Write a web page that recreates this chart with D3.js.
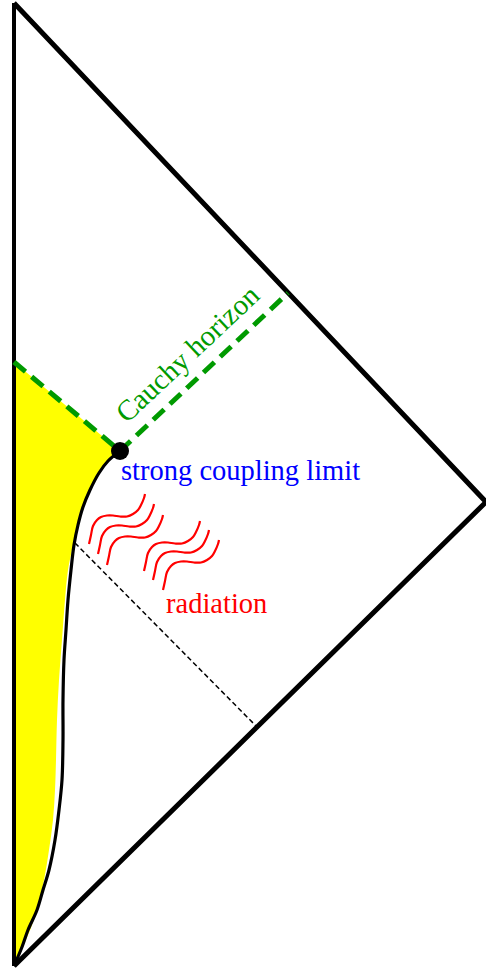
<!DOCTYPE html>
<html>
<head>
<meta charset="utf-8">
<script src="https://cdn.jsdelivr.net/npm/d3@7"></script>
<style>
  html, body { margin: 0; padding: 0; background: #fff; }
  svg { display: block; }
</style>
</head>
<body>
<div id="penrose"></div>
<script>
// diagram units: x from the left edge (r = 0), y up from the bottom corner
const boundary = [[0, 963], [472, 464], [0, 0]];
const leftEdge = [[0, 0], [0, 963]];
const cauchy = [[0, 604], [106, 515], [274, 673]];
const strongPoint = [106, 515];

// worldline of the shell / boundary of the strong coupling region
const curvePts = [
    [106, 515], [94, 505], [85, 493], [76, 476], [69, 459], [64, 441], [60, 421],
    [57, 396], [54, 366], [52, 336], [50, 306], [49, 266], [49, 226], [48, 186],
    [45, 156], [41, 126], [35, 96], [29, 76], [23, 56], [14, 36], [8, 19], [0, 0]
];
const yellowEdge = [
    [106, 515], [94, 505], [85, 493], [76, 476], [69, 459], [63, 441], [59, 421],
    [54, 396], [51, 366], [48, 326], [45, 286], [43, 246], [42, 206], [41, 176],
    [39, 146], [35, 116], [30, 86], [24, 61], [18, 41], [11, 24], [4, 8], [0, 0]
];
const rayLine = [[61, 423], [243, 239]];

const waveStarts = [[75, 422], [84, 412], [93, 401], [130, 395], [139, 386], [149, 376]];
const waveShape = [
    [0, 0], [2, 9], [4, 18], [8, 24], [12, 27], [18, 28.5], [24, 28.5],
    [31, 27.5], [38, 27.5], [44, 30], [49, 34], [52, 39], [55, 46], [56, 50]
];

const labels = [
    { text: "strong coupling limit", at: [107, 486], color: "#0000ff" },
    { text: "radiation", at: [152, 353], color: "#ff0000" }
];
const cauchyLabel = { text: "Cauchy horizon", at: [113, 542], color: "#009a00" };

const width = 486, height = 972;

const x = d3.scaleLinear().domain([0, 472]).range([14, 486]);
const y = d3.scaleLinear().domain([0, 963]).range([966, 3]);

const svg = d3.select("#penrose")
    .append("svg")
    .attr("width", width)
    .attr("height", height);

const line = d3.line().x(d => x(d[0])).y(d => y(d[1]));
const smooth = d3.line().x(d => x(d[0])).y(d => y(d[1])).curve(d3.curveCatmullRom);

// yellow region between r = 0 and the shell, below the Cauchy horizon
svg.append("path")
    .attr("d", line([[0, 0], [0, 604], [106, 515]]) + smooth(yellowEdge).replace("M", "L") + "Z")
    .attr("fill", "#ffff00")
    .attr("stroke", "none");

// r = 0
svg.append("path")
    .attr("d", line(leftEdge))
    .attr("fill", "none")
    .attr("stroke", "black")
    .attr("stroke-width", 4);

// shell
svg.append("path")
    .attr("d", smooth(curvePts))
    .attr("fill", "none")
    .attr("stroke", "black")
    .attr("stroke-width", 3.2);

// null infinity
svg.append("path")
    .attr("d", line(boundary))
    .attr("fill", "none")
    .attr("stroke", "black")
    .attr("stroke-width", 5)
    .attr("stroke-linejoin", "miter");

// Cauchy horizon
svg.append("path")
    .attr("d", line(cauchy))
    .attr("fill", "none")
    .attr("stroke", "#009a00")
    .attr("stroke-width", 5)
    .attr("stroke-dasharray", "15,8");

// ray to infinity
svg.append("path")
    .attr("d", line(rayLine))
    .attr("fill", "none")
    .attr("stroke", "black")
    .attr("stroke-width", 1.5)
    .attr("stroke-dasharray", "5,3");

svg.append("circle")
    .attr("cx", x(strongPoint[0]))
    .attr("cy", y(strongPoint[1]))
    .attr("r", 9)
    .attr("fill", "black");

// radiation waves
svg.selectAll("path.wave")
    .data(waveStarts)
    .enter()
    .append("path")
    .attr("class", "wave")
    .attr("d", s => smooth(waveShape.map(p => [s[0] + p[0], s[1] + p[1]])))
    .attr("fill", "none")
    .attr("stroke", "#ff0000")
    .attr("stroke-width", 2.2);

svg.selectAll("text.label")
    .data(labels)
    .enter()
    .append("text")
    .attr("class", "label")
    .attr("x", d => x(d.at[0]))
    .attr("y", d => y(d.at[1]))
    .attr("fill", d => d.color)
    .style("font-family", "'Liberation Serif', 'Times New Roman', serif")
    .style("font-size", "28.5px")
    .text(d => d.text);

// label runs parallel to the horizon
const angle = Math.atan2(y(cauchy[2][1]) - y(cauchy[1][1]), x(cauchy[2][0]) - x(cauchy[1][0])) * 180 / Math.PI;
svg.append("text")
    .attr("transform", `translate(${x(cauchyLabel.at[0])},${y(cauchyLabel.at[1])}) rotate(${angle})`)
    .attr("fill", cauchyLabel.color)
    .style("font-family", "'Liberation Serif', 'Times New Roman', serif")
    .style("font-size", "29px")
    .text(cauchyLabel.text);
</script>
</body>
</html>
